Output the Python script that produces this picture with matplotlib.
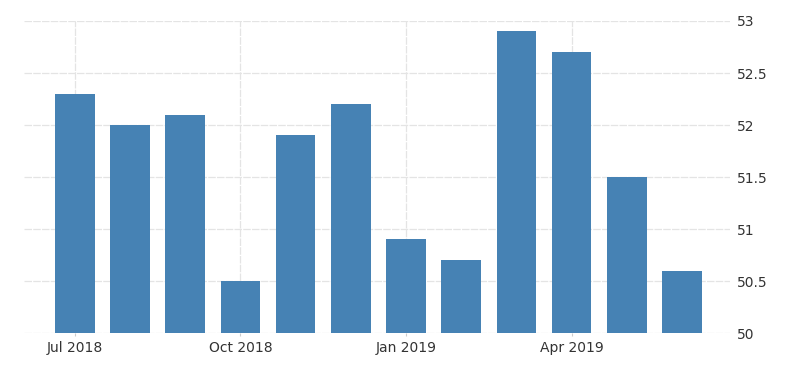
import matplotlib.pyplot as plt
import matplotlib.ticker as mticker

months = ["Jul 2018", "Aug 2018", "Sep 2018", "Oct 2018", "Nov 2018", "Dec 2018",
          "Jan 2019", "Feb 2019", "Mar 2019", "Apr 2019", "May 2019", "Jun 2019"]
values = [52.3, 52.0, 52.1, 50.5, 51.9, 52.2, 50.9, 50.7, 52.9, 52.7, 51.5, 50.6]
tick_months = ["Jul 2018", "Oct 2018", "Jan 2019", "Apr 2019"]

fig = plt.figure(figsize=(8, 3.73), dpi=100)
ax = fig.add_axes([0.03, 0.1072, 0.8825, 0.8365])

x = list(range(len(months)))
ax.bar(x, [v - 50 for v in values], bottom=50, width=0.72, color="#4682b4", zorder=2)

ax.set_xlim(-0.92, 11.87)
ax.set_ylim(50, 53)
ax.yaxis.tick_right()
ax.set_yticks([50, 50.5, 51, 51.5, 52, 52.5, 53])
ax.yaxis.set_major_formatter(mticker.FormatStrFormatter("%g"))
ax.set_xticks([months.index(m) for m in tick_months])
ax.set_xticklabels(tick_months)

ax.grid(True, color="#e4e4e4", linewidth=0.9, linestyle=(0, (6, 1)), zorder=0)
for s in ax.spines.values():
    s.set_visible(False)
ax.tick_params(axis="y", length=0, pad=5, labelsize=10, labelcolor="#333333")
ax.tick_params(axis="x", length=2, color="#cccccc", pad=4, labelsize=10, labelcolor="#333333")

fig.savefig("out.png", dpi=100)
